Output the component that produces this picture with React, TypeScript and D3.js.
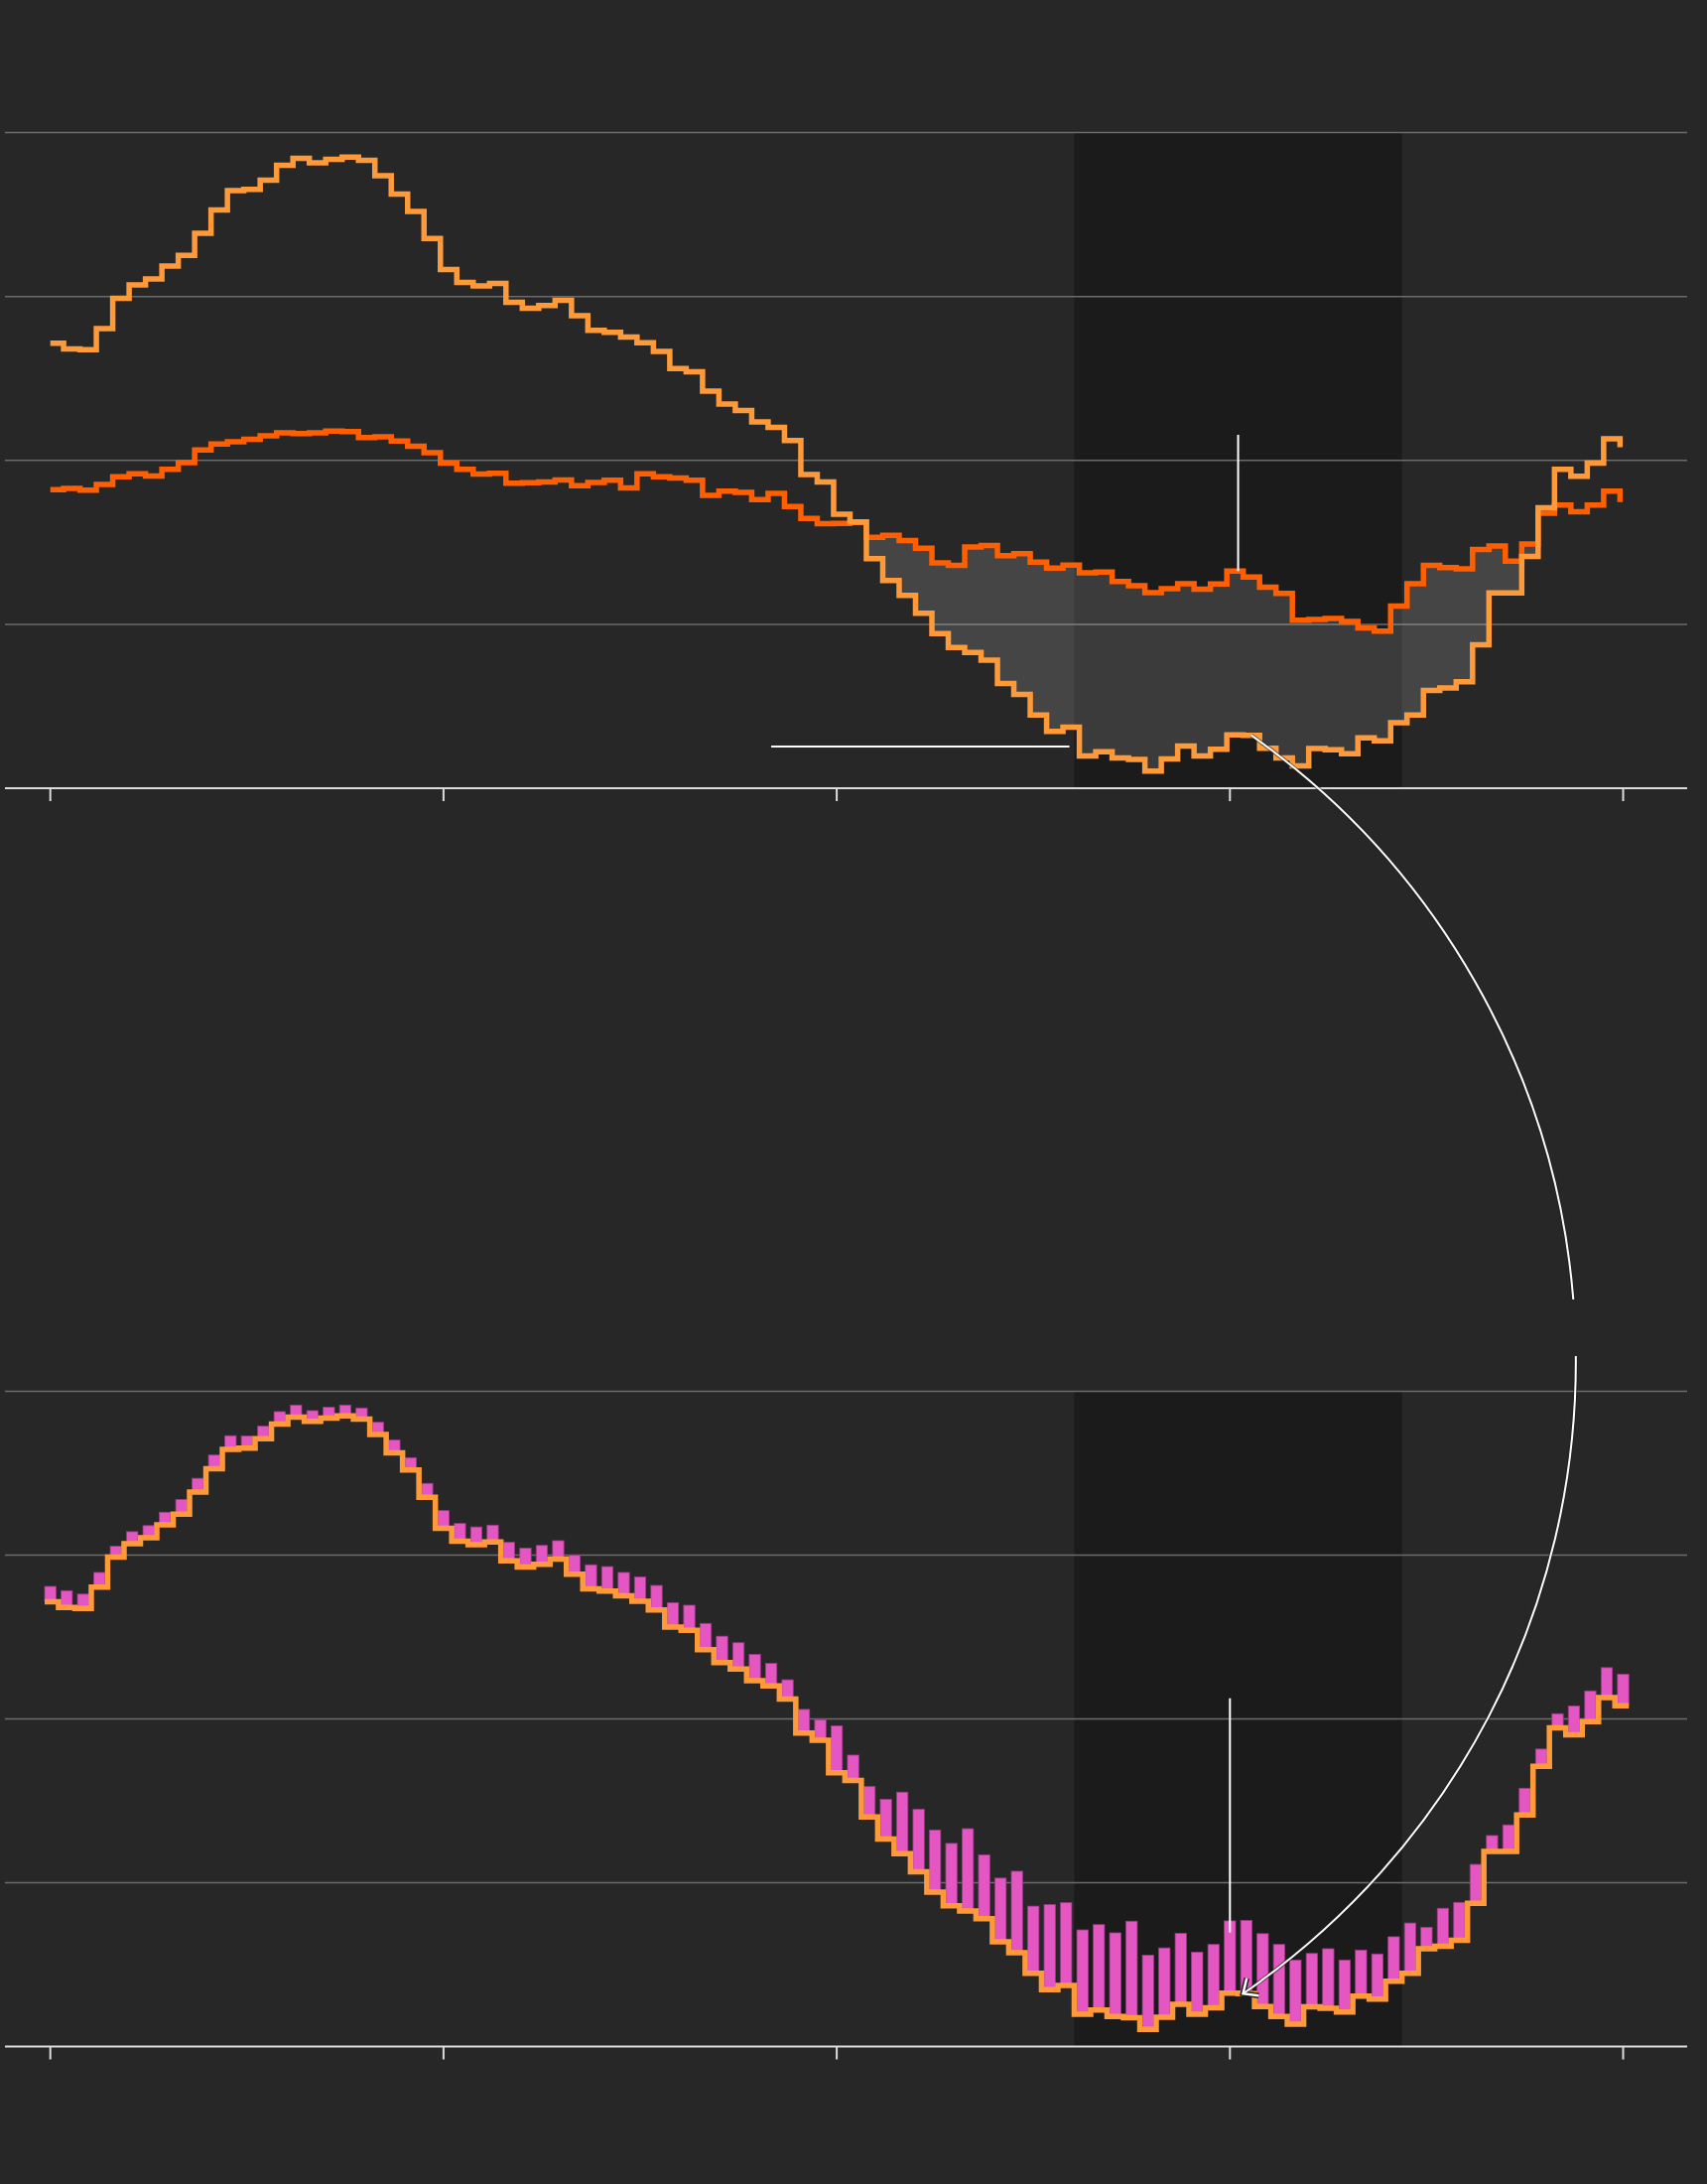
import React from 'react'
import * as d3 from 'd3'

// monthly readings, 97 months; ticks every 24 months
const months = d3.range(0, 97)
const tickMonths = [0, 24, 48, 72, 96]
const gridValues = [10, 20, 30, 40]

const lightSeries = [
  27.15, 26.8, 26.75, 28.04, 29.88, 30.7, 31.06, 31.85, 32.5, 33.85, 35.27, 36.45, 36.53, 37.1, 38.0, 38.42,
  38.16, 38.37, 38.5, 38.3, 37.37, 36.24, 35.19, 33.53, 31.64, 30.85, 30.64, 30.8, 29.65, 29.28, 29.44, 29.76,
  28.83, 27.94, 27.81, 27.52, 27.18, 26.65, 25.6, 25.41, 24.23, 23.44, 23.05, 22.34, 22.02, 21.21, 19.13, 18.69,
  16.71, 16.24, 14.01, 12.67, 11.77, 10.67, 9.43, 8.59, 8.28, 7.81, 6.39, 5.73, 4.47, 3.47, 3.73, 1.97,
  2.23, 1.84, 1.76, 1.05, 1.79, 2.58, 1.97, 2.37, 3.26, 3.23, 2.44, 1.84, 1.37, 2.42, 2.34, 2.1,
  3.07, 2.89, 3.99, 4.47, 5.97, 6.12, 6.49, 8.75, 11.91, 11.91, 14.14, 17.11, 19.45, 19.03, 19.84, 21.31, 20.8,
]

const darkSeries = [
  18.21, 18.29, 18.19, 18.53, 19.0, 19.19, 19.05, 19.45, 19.87, 20.63, 21.0, 21.13, 21.29, 21.5, 21.68, 21.63,
  21.68, 21.79, 21.76, 21.39, 21.44, 21.18, 20.87, 20.47, 19.84, 19.45, 19.16, 19.21, 18.61, 18.63, 18.69, 18.8,
  18.45, 18.66, 18.79, 18.32, 19.19, 19.0, 18.92, 18.79, 17.87, 18.13, 18.05, 17.61, 17.98, 17.19, 16.45, 16.14,
  16.16, 16.22, 15.3, 15.43, 15.11, 14.64, 13.75, 13.59, 14.72, 14.8, 14.19, 14.3, 13.8, 13.43, 13.61, 13.14,
  13.19, 12.61, 12.35, 11.93, 12.17, 12.48, 12.14, 12.46, 13.25, 12.88, 12.27, 11.88, 10.25, 10.3, 10.35, 10.17,
  9.78, 9.59, 11.12, 12.48, 13.59, 13.46, 13.38, 14.56, 14.77, 13.85, 14.9, 16.77, 17.27, 16.87, 17.27, 18.13, 17.45,
]

const pinkSeries = [
  28.09, 27.83, 27.62, 28.94, 30.54, 31.43, 31.8, 32.62, 33.4, 34.69, 36.11, 37.29, 37.27, 37.87, 38.76, 39.16,
  38.82, 39.03, 39.16, 38.98, 38.11, 37.03, 35.95, 34.38, 32.72, 31.93, 31.72, 31.83, 30.78, 30.43, 30.59, 30.88,
  29.99, 29.41, 29.3, 28.94, 28.67, 28.15, 27.1, 26.94, 25.83, 25.05, 24.65, 23.94, 23.39, 22.39, 20.58, 19.95,
  19.58, 17.79, 15.87, 15.09, 15.53, 14.48, 13.22, 12.4, 13.3, 11.7, 10.28, 10.7, 8.57, 8.67, 8.78, 7.12,
  7.44, 6.94, 7.65, 5.57, 6.02, 6.91, 5.76, 6.23, 7.67, 7.7, 6.89, 6.23, 5.28, 5.68, 5.97, 5.28,
  5.89, 5.65, 6.7, 7.54, 7.28, 8.44, 8.8, 11.12, 12.88, 13.53, 15.77, 18.16, 20.32, 20.79, 21.71, 23.13, 22.73,
]

// shaded period and annotations, in months / values
const bandMonths = [62.5, 82.5]
const refLine = { from: 44, to: 62.2, value: 2.54 }
const topMarker = { month: 72.5, from: 21.56 }
const bottomMarker = { month: 72, from: 21.26, to: 6.96 }
const arrowMonth = { start: 73.3, end: 72.8, index: 73 }

const W = 1720
const H = 2200
const BG = '#272727'
const BAND = '#1b1b1b'
const LIGHT = '#ff9a3a'
const DARK = '#ff5f00'
const PINK = '#e456c2'

export default function App() {
  const x = d3.scaleLinear().domain([0, 96]).range([50.7, 1635.5])
  const yTop = d3.scaleLinear().domain([0, 40]).range([794, 133.5])
  const yBot = d3.scaleLinear().domain([0, 40]).range([2061.5, 1401.5])
  const gridX0 = 5
  const gridX1 = 1700
  const lineShift = 0.19
  const lineW = 5.5
  const step = x(1) - x(0)
  const barW = step * 0.69

  // top panel: step-after lines
  const stepLine = (vals: number[]) =>
    d3
      .line<number>()
      .x((_, i) => x(i - lineShift))
      .y((d) => yTop(d))
      .curve(d3.curveStepAfter)(vals) || ''

  const gapArea =
    d3
      .area<number>()
      .x((i) => x(i - lineShift))
      .y0((i) => yTop(lightSeries[i]))
      .y1((i) => yTop(Math.max(lightSeries[i], darkSeries[i])))
      .curve(d3.curveStepAfter)(months) || ''

  // bottom panel: centred steps, extended by half a bar at both ends
  const bottomPts: [number, number][] = [
    [x(0) - barW / 2, lightSeries[0]],
    ...months.map((m) => [x(m), lightSeries[m]] as [number, number]),
    [x(96) + barW / 2, lightSeries[96]],
  ]
  const bottomLine =
    d3
      .line<[number, number]>()
      .x((d) => d[0])
      .y((d) => yBot(d[1]))
      .curve(d3.curveStep)(bottomPts) || ''

  // curved arrow between the panels
  const r = 772
  const S = [x(arrowMonth.start), yTop(lightSeries[arrowMonth.index])]
  const E = [x(arrowMonth.end), yBot(lightSeries[arrowMonth.index])]
  const dx = E[0] - S[0]
  const dy = E[1] - S[1]
  const L = Math.hypot(dx, dy)
  const h = Math.sqrt(r * r - (L / 2) * (L / 2))
  const cx = (S[0] + E[0]) / 2 - (h * dy) / L
  const cy = (S[1] + E[1]) / 2 + (h * dx) / L
  const gapY = [1309, 1366]
  const gp = gapY.map((gy) => [cx + Math.sqrt(r * r - (gy - cy) * (gy - cy)), gy])
  const arcA = `M${S[0]},${S[1]}A${r},${r} 0 0 1 ${gp[0][0]},${gp[0][1]}`
  const arcB = `M${gp[1][0]},${gp[1][1]}A${r},${r} 0 0 1 ${E[0]},${E[1]}`
  const th = Math.atan2(E[1] - cy, E[0] - cx)
  const back = Math.atan2(-Math.cos(th), Math.sin(th))
  const armLen = 16
  const spread = (42 * Math.PI) / 180
  const arm = (a: number) => [E[0] + armLen * Math.cos(a), E[1] + armLen * Math.sin(a)]
  const a1 = arm(back - spread)
  const a2 = arm(back + spread)
  const head = `M${a1[0]},${a1[1]}L${E[0]},${E[1]}L${a2[0]},${a2[1]}`

  const panel = (y: d3.ScaleLinear<number, number>, key: string) => (
    <g key={key}>
      <rect
        x={x(bandMonths[0])}
        width={x(bandMonths[1]) - x(bandMonths[0])}
        y={y(40)}
        height={y(0) - y(40)}
        fill={BAND}
      />
      {gridValues.map((g) => (
        <line key={g} x1={gridX0} x2={gridX1} y1={y(g)} y2={y(g)} stroke="#6b6b6b" strokeWidth={1.5} />
      ))}
    </g>
  )

  const axis = (y: d3.ScaleLinear<number, number>) => (
    <g>
      <line x1={gridX0} x2={gridX1} y1={y(0)} y2={y(0)} stroke="#dcdcdc" strokeWidth={2} />
      {tickMonths.map((t) => (
        <line key={t} x1={x(t)} x2={x(t)} y1={y(0)} y2={y(0) + 13} stroke="#dcdcdc" strokeWidth={2} />
      ))}
    </g>
  )

  return (
    <svg
      width={W}
      height={H}
      style={{ position: 'absolute', left: 0, top: 0, display: 'block', background: BG }}
    >
      <defs>
        <clipPath id="topClip">
          <rect x={x(0)} y={0} width={W - x(0)} height={900} />
        </clipPath>
      </defs>
      <rect width={W} height={H} fill={BG} />

      {/* top panel */}
      {panel(yTop, 'top')}
      <g clipPath="url(#topClip)">
        <path d={gapArea} fill="#fff" fillOpacity={0.14} />
        <path d={stepLine(darkSeries)} fill="none" stroke={DARK} strokeWidth={lineW} />
        <path d={stepLine(lightSeries)} fill="none" stroke={LIGHT} strokeWidth={lineW} />
      </g>
      {axis(yTop)}
      <line
        x1={x(refLine.from)}
        x2={x(refLine.to)}
        y1={yTop(refLine.value)}
        y2={yTop(refLine.value)}
        stroke="#fff"
        strokeWidth={2}
      />
      <line
        x1={x(topMarker.month)}
        x2={x(topMarker.month)}
        y1={yTop(topMarker.from)}
        y2={yTop(darkSeries[72])}
        stroke="#fff"
        strokeWidth={2}
      />

      {/* bottom panel */}
      {panel(yBot, 'bottom')}
      {months.map((m) => (
        <rect
          key={m}
          x={x(m) - barW / 2}
          width={barW}
          y={yBot(pinkSeries[m])}
          height={yBot(lightSeries[m]) - yBot(pinkSeries[m])}
          fill={PINK}
          stroke="#9a3a86"
          strokeWidth={0.8}
        />
      ))}
      <path d={bottomLine} fill="none" stroke={LIGHT} strokeWidth={lineW} />
      {axis(yBot)}
      <line
        x1={x(bottomMarker.month)}
        x2={x(bottomMarker.month)}
        y1={yBot(bottomMarker.from)}
        y2={yBot(bottomMarker.to)}
        stroke="#fff"
        strokeWidth={2}
      />

      {/* arrow */}
      <g fill="none" strokeLinecap="butt">
        <path d={arcA} stroke="#1e1e1e" strokeWidth={4} strokeOpacity={0.6} />
        <path d={arcB} stroke="#1e1e1e" strokeWidth={4} strokeOpacity={0.6} />
        <path d={head} stroke="#1e1e1e" strokeWidth={5.5} />
        <path d={arcA} stroke="#fff" strokeWidth={2} />
        <path d={arcB} stroke="#fff" strokeWidth={2} />
        <path d={head} stroke="#fff" strokeWidth={2.5} />
      </g>
    </svg>
  )
}
